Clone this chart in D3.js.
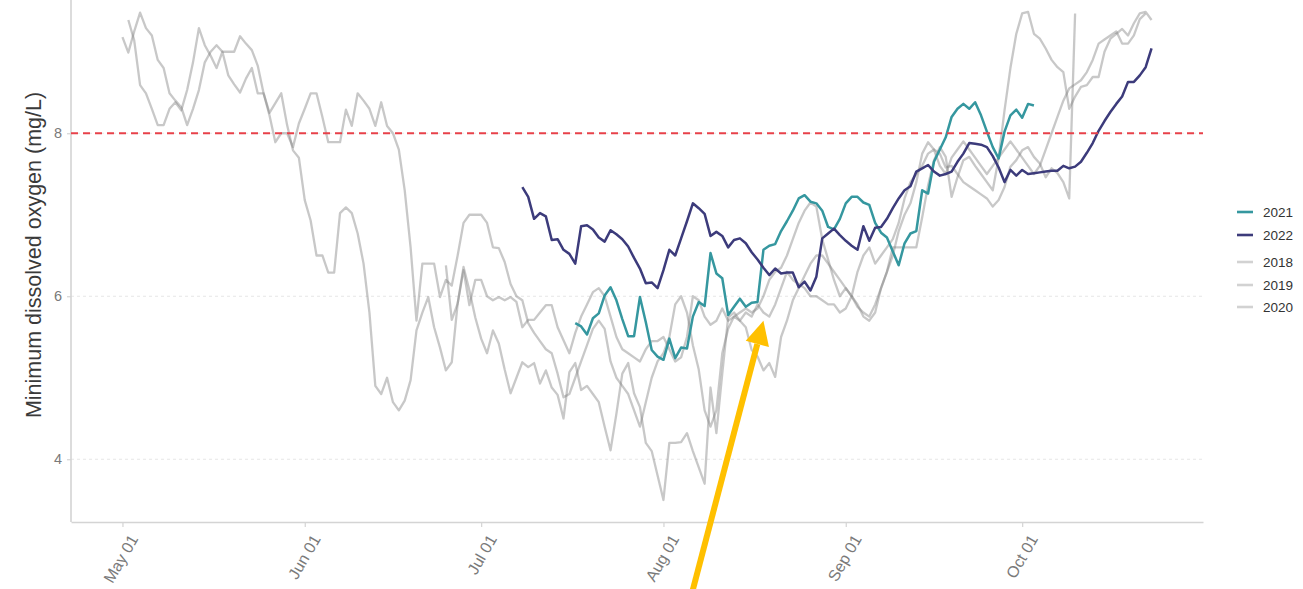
<!DOCTYPE html>
<html>
<head>
<meta charset="utf-8">
<script src="https://cdn.jsdelivr.net/npm/d3@7"></script>
<style>
  body { margin: 0; background: #fff; }
  svg { display: block; }
  text { font-family: "Liberation Sans", Arial, sans-serif; }
</style>
</head>
<body>
<svg id="chart" width="1303" height="589"></svg>
<script>
// ---- data: daily minimum dissolved oxygen (mg/L), one value per day from each start date ----
const start2018 = "05-01";
const do2018 = [9.18, 8.99, 9.25, 9.48, 9.29, 9.20, 8.90, 8.80, 8.49, 8.40, 8.32, 8.10, 8.30, 8.53, 8.87, 9.00, 9.08, 9.00, 9.00, 9.00,
  9.19, 9.10, 9.02, 8.83, 8.49, 8.25, 8.37, 8.49, 8.10, 7.79, 7.70, 7.18, 6.93, 6.50, 6.50, 6.29, 6.29, 7.02, 7.09, 7.02,
  6.77, 6.40, 5.80, 4.90, 4.80, 5.00, 4.70, 4.60, 4.72, 4.97, 5.58, 5.80, 5.99, 5.62, 5.37, 5.09, 5.19, 5.91, 6.36, 6.07,
  5.74, 5.48, 5.30, 5.58, 5.42, 5.10, 4.81, 5.00, 5.19, 5.13, 5.18, 4.93, 5.09, 4.88, 4.79, 4.50, 5.07, 5.18, 4.85, 4.90,
  4.80, 4.70, 4.40, 4.11, 4.56, 5.05, 5.18, 4.81, 4.64, 4.20, 4.10, 3.80, 3.50, 4.20, 4.20, 4.21, 4.32, 4.10, 3.90, 3.70,
  4.88, 4.32, 5.05, 5.74, 5.80, 5.70, 5.80, 5.75, 5.90, 5.80, 5.75, 5.90, 6.10, 6.30, 6.20, 6.15, 6.10, 6.00, 6.00, 5.95,
  5.90, 5.90, 5.80, 5.85, 6.00, 5.90, 5.75, 5.70, 5.80, 6.10, 6.30, 6.60, 6.60, 6.60, 6.60, 6.60, 6.97, 7.36, 7.67, 7.83,
  7.71, 7.22, 7.46, 7.67, 7.71, 7.60, 7.50, 7.40, 7.30, 7.70, 8.28, 8.80, 9.22, 9.47, 9.49, 9.22, 9.16, 9.04, 8.90, 8.81,
  8.75, 8.30, 8.45, 8.57, 8.59, 8.69, 8.69, 9.00, 9.16, 9.22, 9.28, 9.20, 9.35, 9.47, 9.49, 9.39];

const start2019 = "05-02";
const do2019 = [9.39, 9.14, 8.59, 8.49, 8.30, 8.10, 8.10, 8.30, 8.38, 8.28, 8.53, 8.87, 9.29, 9.08, 8.95, 8.80, 9.00, 8.71, 8.60, 8.50,
  8.67, 8.80, 8.49, 8.49, 8.22, 7.89, 8.00, 8.00, 7.83, 8.12, 8.30, 8.49, 8.49, 8.20, 7.89, 7.89, 7.89, 8.29, 8.09, 8.49,
  8.40, 8.30, 8.09, 8.38, 8.09, 8.00, 7.80, 7.30, 6.60, 5.70, 6.40, 6.40, 6.40, 5.99, 6.20, 6.13, 6.50, 6.90, 7.00, 7.00,
  7.00, 6.90, 6.60, 6.59, 6.42, 6.15, 6.00, 5.95, 5.67, 5.55, 5.45, 5.35, 5.30, 5.05, 4.76, 4.80, 5.00, 5.20, 5.40, 5.60,
  5.70, 5.60, 5.20, 5.00, 4.90, 4.80, 4.60, 4.40, 4.70, 5.00, 5.20, 5.30, 5.50, 5.90, 6.00, 5.80, 5.40, 5.10, 4.60, 4.40,
  4.60, 5.30, 5.60, 5.75, 5.70, 5.62, 5.34, 5.26, 5.09, 5.18, 5.01, 5.50, 5.70, 5.95, 6.10, 6.25, 6.40, 6.50, 6.50, 6.40,
  6.30, 6.20, 6.10, 6.00, 5.87, 5.80, 5.75, 5.90, 6.10, 6.30, 6.50, 6.80, 7.00, 7.14, 7.40, 7.75, 7.89, 7.80, 7.75, 7.58,
  7.60, 7.50, 7.40, 7.35, 7.30, 7.25, 7.20, 7.10, 7.18, 7.34, 7.59, 7.67, 7.79, 7.83, 7.71, 7.63, 7.46, 7.57, 7.51, 7.40,
  7.20, 9.47];

const start2020 = "06-25";
const do2020 = [6.38, 5.71, 5.91, 6.32, 5.89, 6.20, 6.20, 6.00, 5.95, 5.99, 5.95, 5.99, 5.93, 5.62, 5.71, 5.71, 5.80, 5.89, 5.89, 5.62,
  5.46, 5.30, 5.55, 5.75, 5.90, 6.05, 6.10, 6.00, 5.75, 5.50, 5.35, 5.30, 5.25, 5.20, 5.35, 5.45, 5.45, 5.50, 5.35, 5.20,
  5.25, 5.50, 6.00, 5.95, 5.75, 5.65, 5.70, 5.85, 5.70, 5.75, 5.80, 5.85, 5.80, 5.85, 6.00, 6.20, 6.30, 6.35, 6.50, 6.70,
  6.90, 7.05, 7.15, 7.10, 6.70, 6.45, 6.20, 6.00, 6.10, 6.00, 6.30, 6.50, 6.60, 6.40, 6.50, 6.60, 6.70, 6.90, 7.20, 7.40,
  7.50, 7.60, 7.75, 7.80, 7.60, 7.50, 7.70, 7.80, 7.90, 7.80, 7.70, 7.60, 7.50, 7.60, 7.70, 7.80, 7.90, 7.80, 7.70, 7.60,
  7.50, 7.60, 7.80, 8.00, 8.20, 8.40, 8.55, 8.60, 8.65, 8.75, 8.90, 9.10, 9.15, 9.20, 9.25, 9.10, 9.10, 9.20, 9.40, 9.47];

const start2021 = "07-17";
const do2021 = [5.67, 5.63, 5.53, 5.73, 5.79, 6.01, 6.11, 5.95, 5.72, 5.51, 5.51, 5.99, 5.68, 5.34, 5.26, 5.22, 5.48, 5.24, 5.37, 5.36,
  5.75, 5.93, 5.88, 6.53, 6.28, 6.22, 5.77, 5.87, 5.97, 5.87, 5.92, 5.93, 6.57, 6.62, 6.64, 6.80, 6.92, 7.05, 7.20, 7.24,
  7.16, 7.14, 7.05, 6.85, 6.82, 6.95, 7.14, 7.22, 7.22, 7.15, 7.12, 6.90, 6.78, 6.72, 6.55, 6.38, 6.65, 6.77, 6.80, 7.30,
  7.26, 7.65, 7.80, 7.95, 8.20, 8.30, 8.36, 8.30, 8.38, 8.22, 8.02, 7.83, 7.69, 8.02, 8.22, 8.29, 8.19, 8.36, 8.34];

const start2022 = "07-08";
const do2022 = [7.34, 7.22, 6.95, 7.02, 6.98, 6.69, 6.70, 6.57, 6.52, 6.40, 6.86, 6.87, 6.82, 6.72, 6.67, 6.81, 6.76, 6.70, 6.61, 6.47,
  6.34, 6.16, 6.17, 6.10, 6.32, 6.57, 6.50, 6.71, 6.92, 7.14, 7.08, 7.01, 6.74, 6.79, 6.74, 6.60, 6.69, 6.71, 6.65, 6.54,
  6.45, 6.35, 6.26, 6.34, 6.28, 6.29, 6.29, 6.11, 6.18, 6.07, 6.24, 6.71, 6.77, 6.83, 6.75, 6.68, 6.62, 6.57, 6.86, 6.68,
  6.84, 6.85, 6.95, 7.08, 7.20, 7.30, 7.35, 7.53, 7.57, 7.61, 7.53, 7.48, 7.50, 7.53, 7.65, 7.75, 7.88, 7.87, 7.86, 7.83,
  7.72, 7.58, 7.40, 7.55, 7.48, 7.55, 7.50, 7.51, 7.52, 7.53, 7.54, 7.54, 7.60, 7.57, 7.59, 7.65, 7.76, 7.88, 8.03, 8.15,
  8.26, 8.36, 8.45, 8.63, 8.63, 8.71, 8.81, 9.04];

const years = ["2018", "2019", "2020", "2021", "2022"];
const legendOrder = ["2021", "2022", "2018", "2019", "2020"];
const monthTicks = ["05-01", "06-01", "07-01", "08-01", "09-01", "10-01"];
const yTicks = [4, 6, 8];
const targetDO = 8;                       // dashed reference level
const arrowTip = ["08-18", 5.70];         // annotation arrow: points at this day/value
const arrowTail = ["08-06", 2.40];

// ---- build the series on a common calendar year ----
const baseYear = 2001;
const parseMD = md => { const [m, d] = md.split("-").map(Number); return new Date(Date.UTC(baseYear, m - 1, d)); };
const DAY = 864e5;
const raw = { "2018": [start2018, do2018], "2019": [start2019, do2019], "2020": [start2020, do2020],
              "2021": [start2021, do2021], "2022": [start2022, do2022] };
const series = years.map(y => {
  const [s, vals] = raw[y];
  const t0 = parseMD(s).getTime();
  return { year: y, points: vals.map((v, i) => ({ date: new Date(t0 + i * DAY), v })) };
});

const colour = { "2021": "#35979f", "2022": "#3c3b7b" };
const greyStroke = "#7b7b7b";

// ---- layout ----
const svg = d3.select("#chart");
const panel = { left: 71, right: 1203, bottom: 522 };

const allDates = series.flatMap(s => s.points.map(p => p.date.getTime()));
const dMin = d3.min(allDates), dMax = d3.max(allDates), pad = (dMax - dMin) * 0.05;
const x = d3.scaleUtc().domain([new Date(dMin - pad), new Date(dMax + pad)]).range([panel.left, panel.right]);
const y = d3.scaleLinear().domain([3.23, 9.8]).range([panel.bottom, panel.bottom - 6.57 * 81.5]);

// faint horizontal grid
svg.append("g").selectAll("line").data(yTicks).join("line")
  .attr("x1", panel.left).attr("x2", panel.right)
  .attr("y1", d => y(d)).attr("y2", d => y(d))
  .attr("stroke", "#e6e6e6").attr("stroke-width", 1).attr("stroke-dasharray", "3,3");

// axes
const xAxis = d3.axisBottom(x).tickValues(monthTicks.map(parseMD))
  .tickFormat(d3.utcFormat("%b %d")).tickSize(5).tickSizeOuter(0);
const gx = svg.append("g").attr("transform", `translate(0,${panel.bottom})`).call(xAxis);
gx.select(".domain").attr("stroke", "#d4d4d4").attr("stroke-width", 1.6);
gx.selectAll(".tick line").attr("stroke", "#d4d4d4").attr("stroke-width", 1.2);
gx.selectAll(".tick text")
  .attr("fill", "#7a7a7a").attr("font-size", 16)
  .attr("text-anchor", "end")
  .attr("transform", "translate(11,14) rotate(-60)")
  .attr("dy", "0.35em").attr("y", 0).attr("x", 0);

const yAxis = d3.axisLeft(y).tickValues(yTicks).tickFormat(d3.format("d")).tickSize(4).tickPadding(5).tickSizeOuter(0);
const gy = svg.append("g").attr("transform", `translate(${panel.left},0)`).call(yAxis);
gy.select(".domain").attr("stroke", "#d4d4d4").attr("stroke-width", 1.6)
  .attr("d", `M0,${panel.bottom}V0`);
gy.selectAll(".tick line").attr("stroke", "#d4d4d4").attr("stroke-width", 1.2);
gy.selectAll(".tick text").attr("fill", "#7a7a7a").attr("font-size", 14.5);

svg.append("text")
  .attr("transform", `translate(41,255) rotate(-90)`)
  .attr("text-anchor", "middle")
  .attr("fill", "#3a3a3a").attr("font-size", 21.5)
  .text("Minimum dissolved oxygen (mg/L)");

// lines
const line = d3.line().x(d => x(d.date)).y(d => y(d.v));
const plot = svg.append("g");
plot.selectAll("path.grey").data(series.filter(s => !colour[s.year])).join("path")
  .attr("class", "grey")
  .attr("d", s => line(s.points))
  .attr("fill", "none").attr("stroke", greyStroke).attr("stroke-opacity", 0.42)
  .attr("stroke-width", 2.3).attr("stroke-linejoin", "round");

// reference level
svg.append("line")
  .attr("x1", panel.left).attr("x2", panel.right)
  .attr("y1", y(targetDO)).attr("y2", y(targetDO))
  .attr("stroke", "#e8414a").attr("stroke-width", 1.8).attr("stroke-dasharray", "7,5");

plot.selectAll("path.hl").data(series.filter(s => colour[s.year])).join("path")
  .attr("class", "hl")
  .attr("d", s => line(s.points))
  .attr("fill", "none").attr("stroke", s => colour[s.year])
  .attr("stroke-width", 2.5).attr("stroke-linejoin", "round");

// legend
const lg = svg.append("g");
const legendY = { "2021": 212, "2022": 235, "2018": 262, "2019": 285, "2020": 307 };
legendOrder.forEach(yr => {
  const g = lg.append("g").attr("transform", `translate(1237,${legendY[yr]})`);
  g.append("line").attr("x1", 0).attr("x2", 16).attr("y1", 0).attr("y2", 0)
    .attr("stroke", colour[yr] || "#d2d2d2").attr("stroke-width", 2.6);
  g.append("text").attr("x", 26).attr("y", 0).attr("dy", "0.35em")
    .attr("font-size", 13.5).attr("fill", "#333").text(yr);
});

// annotation arrow
const tip = [x(parseMD(arrowTip[0])), y(arrowTip[1])];
const tail = [x(parseMD(arrowTail[0])), y(arrowTail[1])];
const ang = Math.atan2(tip[1] - tail[1], tip[0] - tail[0]);
const headLen = 24, headHalf = 12;
const base = [tip[0] - headLen * Math.cos(ang), tip[1] - headLen * Math.sin(ang)];
const nx = -Math.sin(ang), ny = Math.cos(ang);
svg.append("line")
  .attr("x1", tail[0]).attr("y1", tail[1]).attr("x2", base[0]).attr("y2", base[1])
  .attr("stroke", "#ffc000").attr("stroke-width", 6);
svg.append("polygon")
  .attr("points", [tip, [base[0] + nx * headHalf, base[1] + ny * headHalf], [base[0] - nx * headHalf, base[1] - ny * headHalf]]
    .map(p => p.join(",")).join(" "))
  .attr("fill", "#ffc000");
</script>
</body>
</html>
